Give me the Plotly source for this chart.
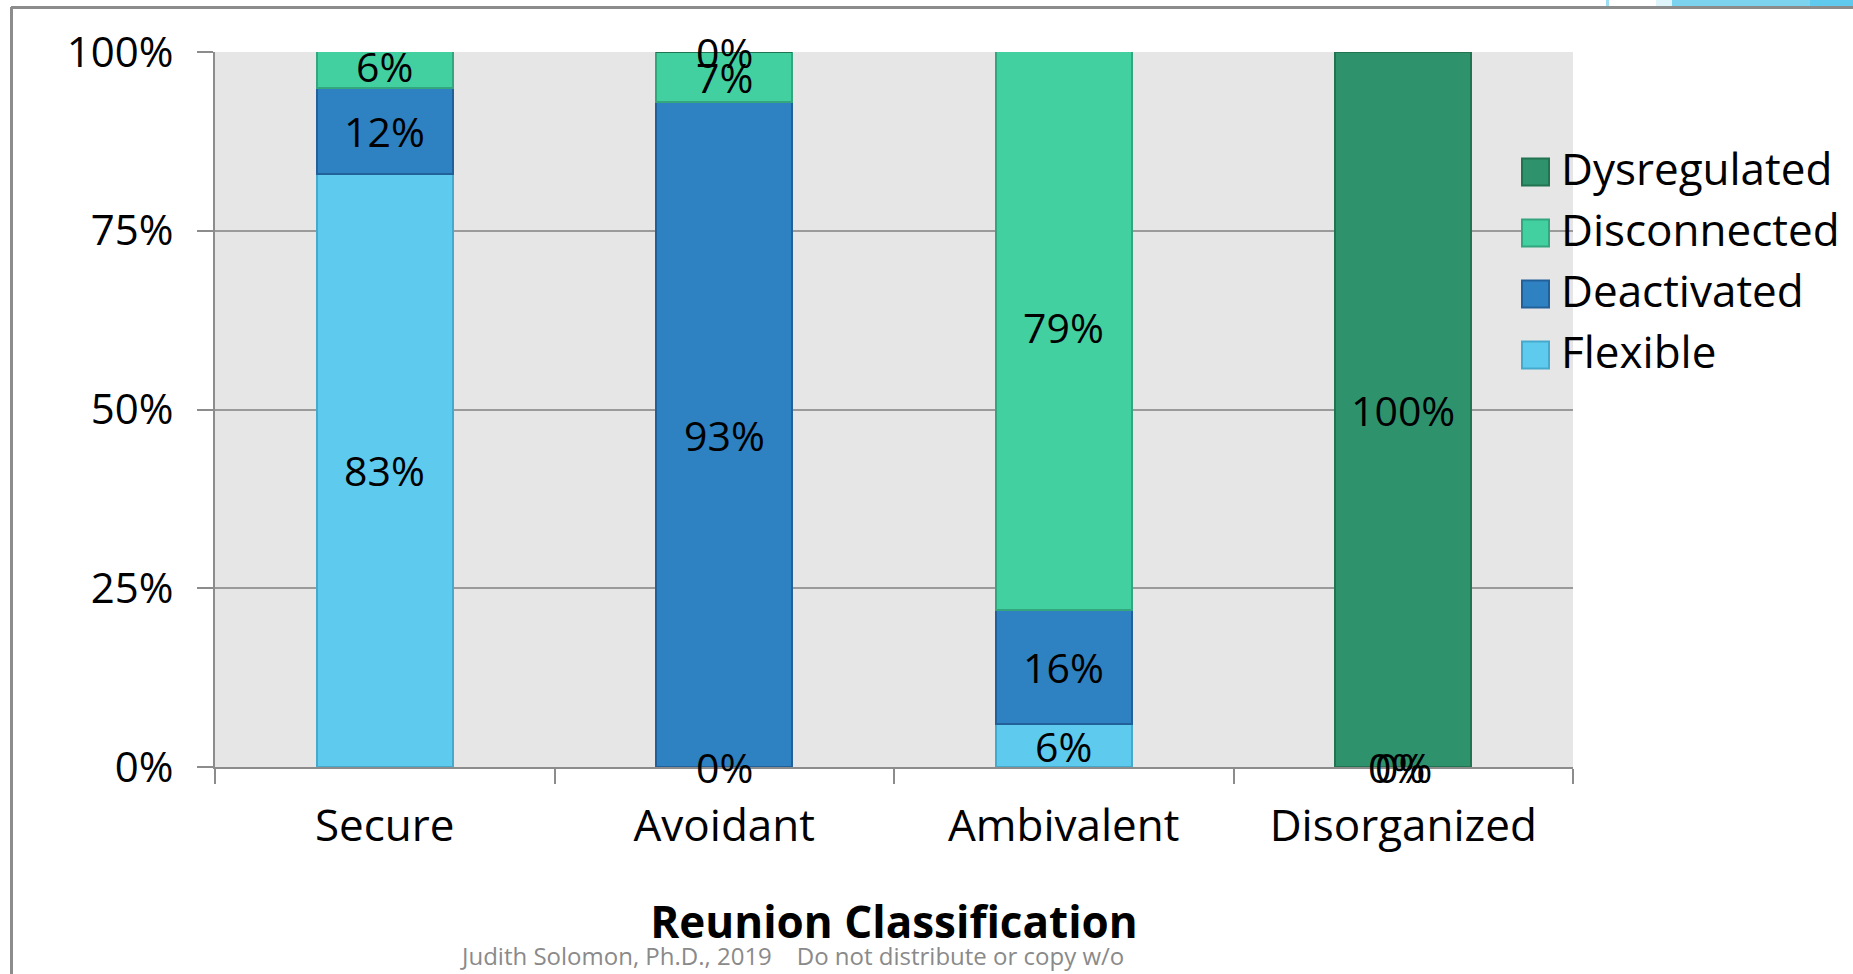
import plotly.graph_objects as go

# Reunion classification by behaviour profile (percent of each group)
categories = ["Secure", "Avoidant", "Ambivalent", "Disorganized"]
flexible = [83, 0, 6, 0]
deactivated = [12, 93, 16, 0]
disconnected = [6, 7, 79, None]
dysregulated = [None, 0, None, 100]

series_names = ["Flexible", "Deactivated", "Disconnected", "Dysregulated"]
y_ticks = [0, 25, 50, 75, 100]
y_tick_labels = ["0%", "25%", "50%", "75%", "100%"]

series_values = [flexible, deactivated, disconnected, dysregulated]
fill_colors = ["#5ECBEE", "#2E82C2", "#43D0A0", "#2E936D"]
edge_colors = ["#45A9CC", "#22609A", "#33A67E", "#22734F"]

W, H = 1853, 974
L, R, T, B = 215, 280, 52, 207
PW, PH = W - L - R, H - T - B


def px_x(p):
    return (p - L) / PW


def px_y(p):
    return (H - B - p) / PH


FONT = "Open Sans"
GRAY = "#8C8C8C"

fig = go.Figure()

for name, vals, fc, ec in zip(series_names, series_values, fill_colors, edge_colors):
    fig.add_trace(go.Bar(
        name=name, x=categories, y=vals,
        marker=dict(color=fc, line=dict(color=ec, width=2)),
        showlegend=False, hoverinfo="skip",
    ))

# value labels centred in each stacked segment
annotations = []
for ci, cat in enumerate(categories):
    base = 0
    seen = []
    for vals in series_values:
        v = vals[ci]
        if v is None:
            continue
        mid = base + v / 2
        shift = -7 if mid in seen else 0
        seen.append(mid)
        annotations.append(dict(
            x=cat, y=mid, xref="x", yref="y", text=f"{v}%", showarrow=False,
            xshift=shift, font=dict(family=FONT, size=41, color="#000000"),
        ))
        base += v

# legend drawn as squares + labels, top entry is the last stacked series
shapes = []
for i, (name, fc, ec) in enumerate(reversed(list(zip(series_names, fill_colors, edge_colors)))):
    cy = 168 + i * 61
    shapes.append(dict(
        type="rect", xref="paper", yref="paper",
        x0=px_x(1522), x1=px_x(1549), y0=px_y(cy + 17.5), y1=px_y(cy - 9.5),
        fillcolor=fc, line=dict(color=ec, width=2),
    ))
    annotations.append(dict(
        x=px_x(1559), y=px_y(cy), xref="paper", yref="paper", text=name,
        showarrow=False, xanchor="left", yanchor="middle",
        font=dict(family=FONT, size=44, color="#000000"),
    ))

# slide frame lines
shapes.append(dict(type="line", xref="paper", yref="paper",
                   x0=px_x(11.5), x1=px_x(11.5), y0=px_y(7), y1=px_y(H),
                   line=dict(color=GRAY, width=3)))
shapes.append(dict(type="line", xref="paper", yref="paper",
                   x0=px_x(11), x1=px_x(W), y0=px_y(7.5), y1=px_y(7.5),
                   line=dict(color=GRAY, width=3)))
# theme ribbon above the frame at the top right
for x0, x1, col in [(1606, 1609, "#9EDDF3"), (1656, 1672, "#DFF4FB"),
                    (1672, 1810, "#7CD3F0"), (1810, 1853, "#5FC9EE")]:
    shapes.append(dict(type="rect", xref="paper", yref="paper",
                       x0=px_x(x0), x1=px_x(x1), y0=px_y(6), y1=px_y(0),
                       fillcolor=col, line=dict(width=0)))

annotations.append(dict(
    x=px_x(792), y=px_y(956), xref="paper", yref="paper",
    text="Judith Solomon, Ph.D., 2019&nbsp;&nbsp;&nbsp;&nbsp;Do not distribute or copy w/o",
    showarrow=False, xanchor="center", yanchor="middle",
    font=dict(family=FONT, size=24, color="#8A8A8A"),
))

fig.update_layout(
    width=W, height=H,
    margin=dict(l=L, r=R, t=T, b=B, autoexpand=False),
    barmode="stack", bargap=0.6,
    plot_bgcolor="#E6E6E6", paper_bgcolor="#FFFFFF",
    font=dict(family=FONT, color="#000000"),
    shapes=shapes, annotations=annotations,
    xaxis=dict(
        type="category", showgrid=False,
        showline=True, linecolor=GRAY, linewidth=2,
        ticks="outside", tickson="boundaries", ticklen=15, tickwidth=2, tickcolor=GRAY,
        ticklabelstandoff=19,
        tickfont=dict(family=FONT, size=44, color="#000000"),
        title=dict(text="<b>Reunion Classification</b>", standoff=54,
                   font=dict(family=FONT, size=44, color="#000000")),
    ),
    yaxis=dict(
        range=[0, 100], tickvals=y_ticks, ticktext=y_tick_labels,
        showgrid=True, gridcolor="#9A9A9A", gridwidth=2, zeroline=False,
        showline=True, linecolor=GRAY, linewidth=2,
        ticks="outside", ticklen=16, tickwidth=2, tickcolor=GRAY,
        ticklabelstandoff=15,
        tickfont=dict(family=FONT, size=42, color="#000000"),
    ),
)

fig.write_html("out.html")
